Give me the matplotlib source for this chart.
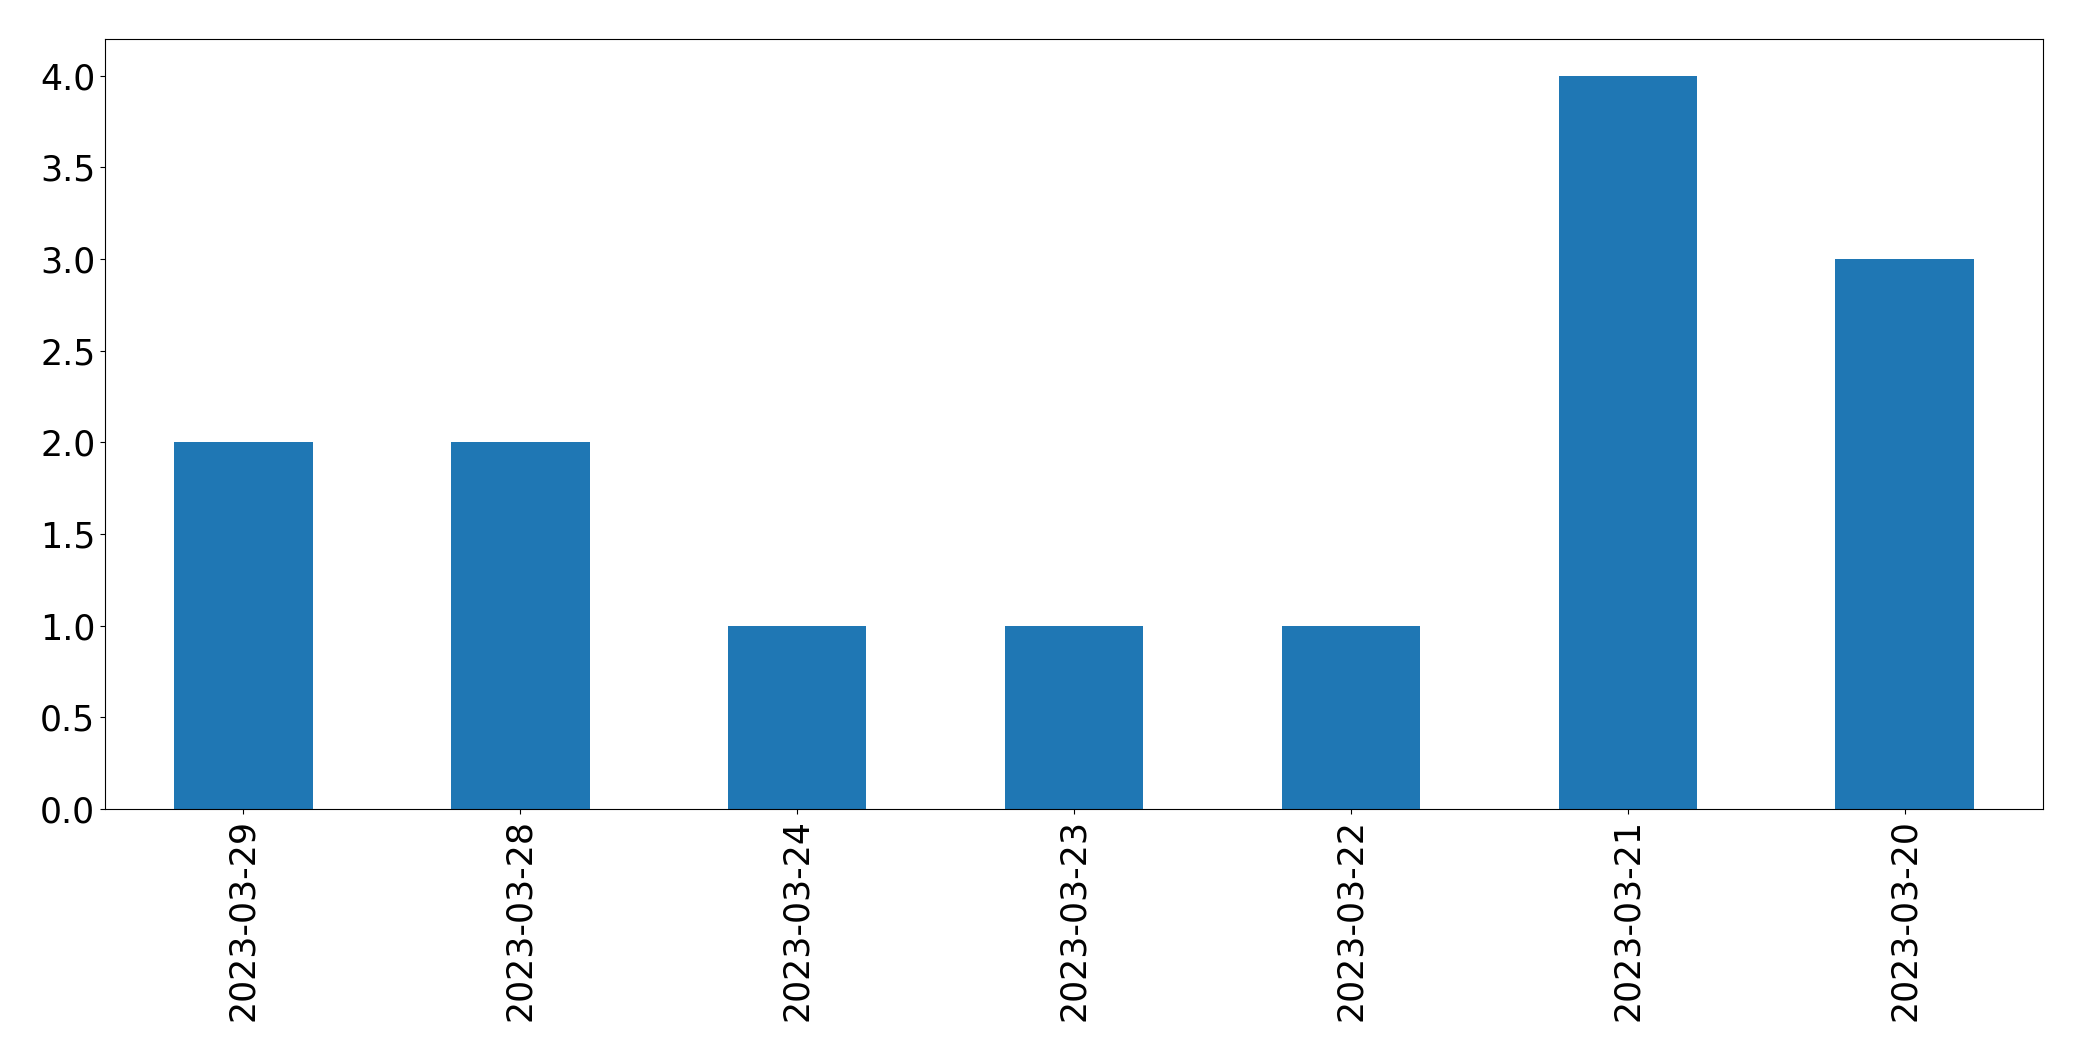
import matplotlib
matplotlib.use("Agg")
import matplotlib.pyplot as plt
import pandas as pd

# dates (as shown, newest first) and counts
dates = ["2023-03-29", "2023-03-28", "2023-03-24", "2023-03-23",
         "2023-03-22", "2023-03-21", "2023-03-20"]
counts = [2, 2, 1, 1, 1, 4, 3]

s = pd.Series(counts, index=dates)

fig = plt.figure(figsize=(20.82, 10.61), dpi=100)
ax = fig.add_axes([105 / 2082, 1 - 809 / 1061, (2043 - 105) / 2082, (809 - 39) / 1061])
s.plot(kind="bar", ax=ax, color="#1f77b4")

ax.tick_params(axis="both", labelsize=25)
ax.set_ylim(0, 4.2)

fig.savefig("out.png", dpi=100)
